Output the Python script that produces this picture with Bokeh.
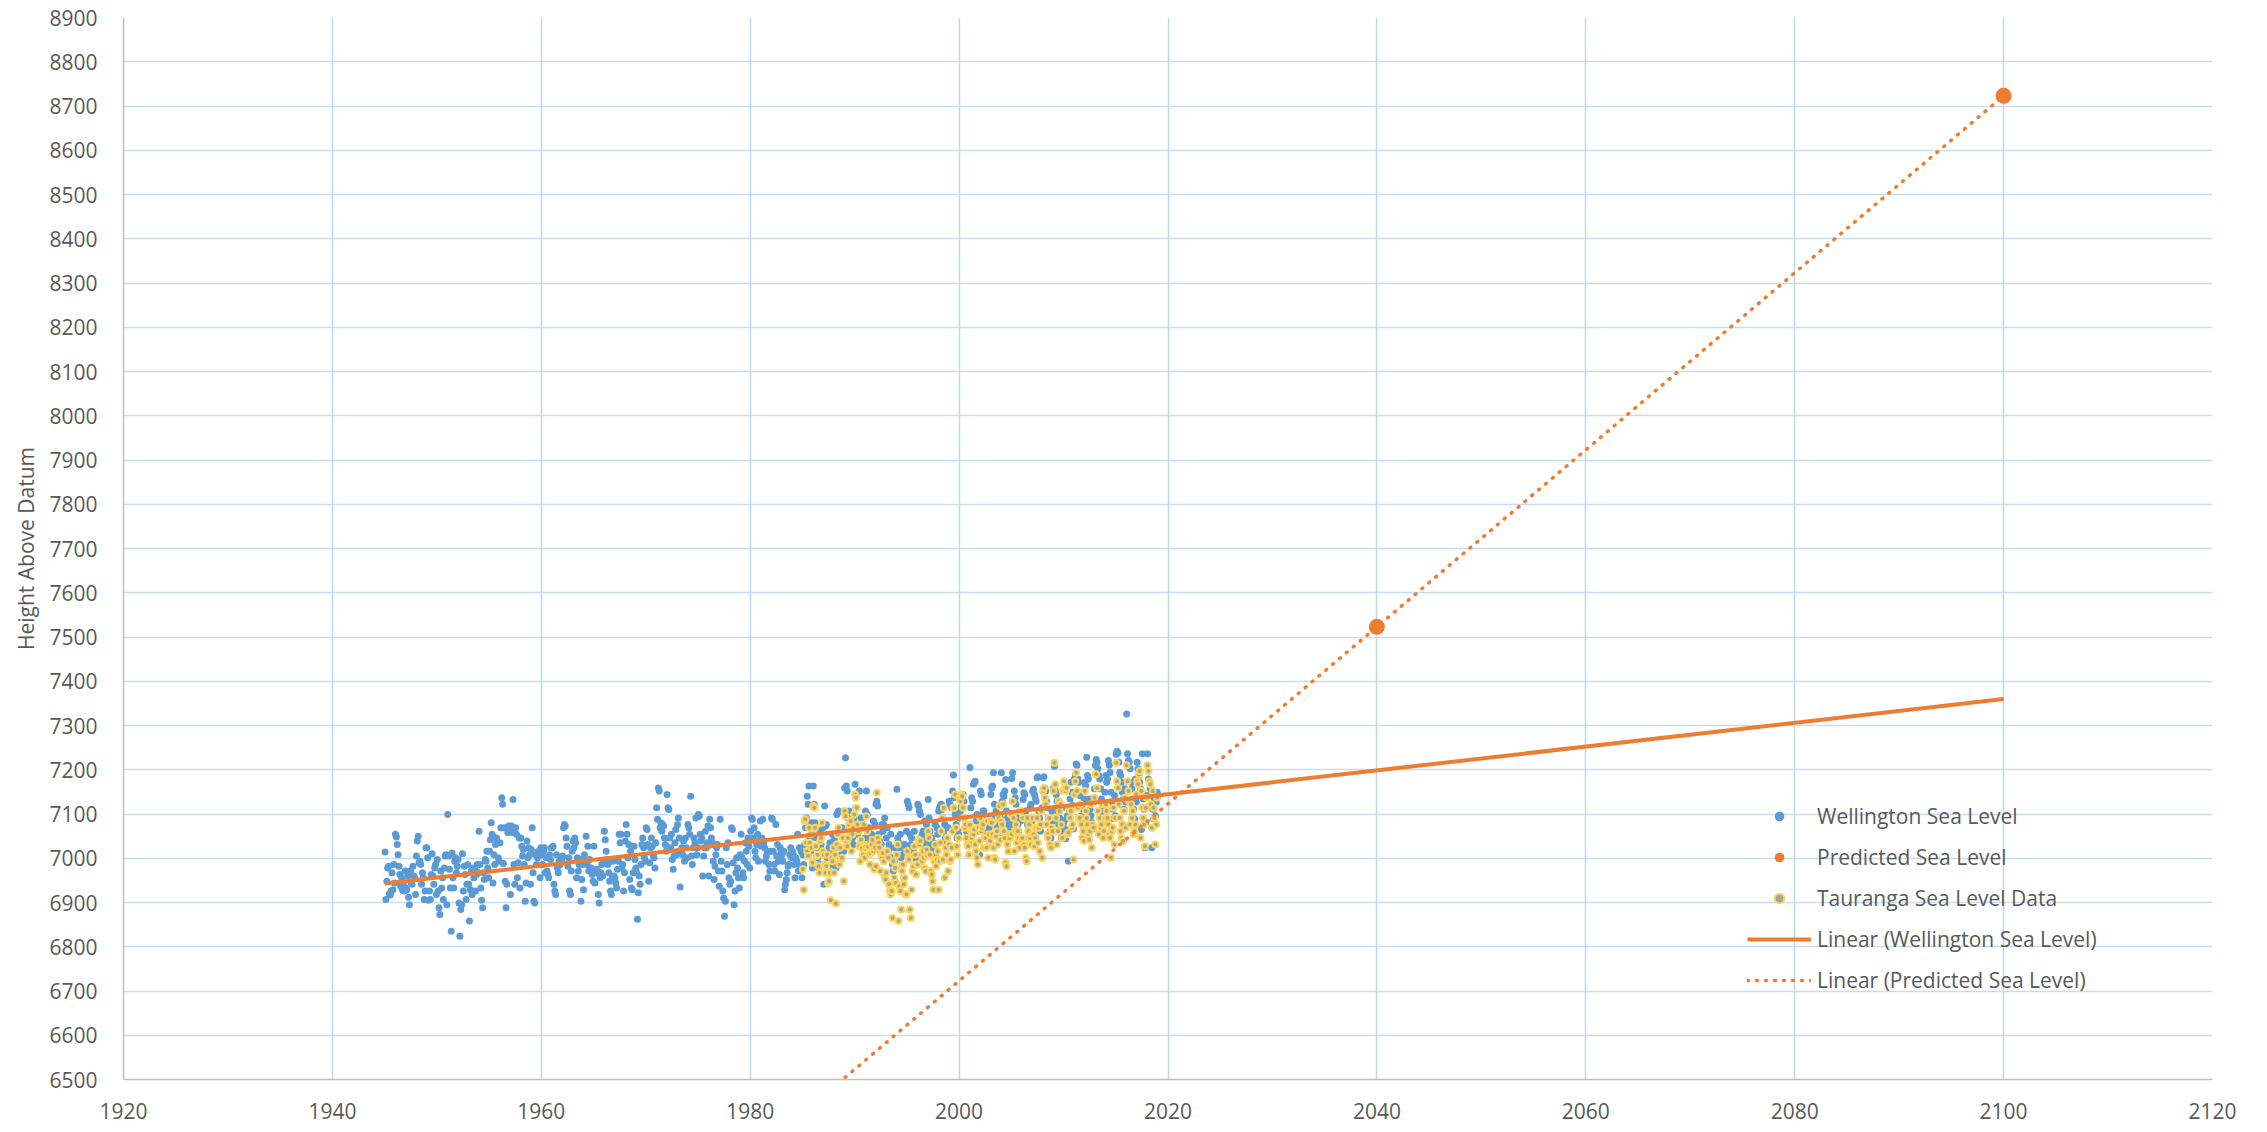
import numpy as np
from bokeh.plotting import figure
from bokeh.models import Range1d, SingleIntervalTicker, Legend, LegendItem, Label
from bokeh.embed import file_html
from bokeh.resources import INLINE

FONT = "Open Sans"
TEXT = "#595959"

# ---------------- data (monthly readings, 12 per year) ----------------
wellington_start_year = 1945
wellington_1945_1949 = [
    7014, 6907, 6948, 6978, 6982, 6920, 6917, 6926, 6967, 6929, 6986, 6944,
    7054, 7048, 7031, 7008, 6982, 6963, 6937, 6956, 6929, 6944, 6926, 6971,
    6933, 6929, 6960, 6912, 6895, 6971, 6944, 6941, 6982, 6960, 6956, 6918,
    7005, 7039, 7050, 6990, 6993, 6986, 6941, 6967, 6956, 6907, 6926, 7024,
    7024, 7001, 6905, 6926, 6907, 6963, 7010, 6960, 6941, 6978, 6986, 6918,
]
wellington_1950s = [
    6997, 6926, 6888, 6873, 6971, 6933, 6956, 6907, 6978, 7005, 7008, 6895,
    7099, 7005, 6975, 6933, 6835, 7012, 6956, 6933, 6993, 7001, 6967, 6982,
    6997, 6899, 6824, 6884, 6895, 7010, 6926, 6982, 6963, 6907, 6941, 6986,
    6941, 6858, 6929, 6971, 6918, 6978, 6956, 6975, 6926, 6963, 6986, 6967,
    7061, 6986, 6933, 6905, 6888, 6967, 6952, 6997, 6993, 7016, 6978, 6956,
    7016, 7042, 7080, 7054, 6944, 7008, 6986, 7031, 7046, 7035, 7001, 6993,
    7035, 7069, 7137, 7122, 6988, 7069, 6948, 6888, 6941, 7058, 7073, 7065,
    6918, 7073, 7058, 7133, 6986, 6941, 7069, 7054, 6956, 6990, 7046, 6933,
    7046, 7027, 7005, 7020, 6986, 6903, 6944, 7039, 7001, 7024, 7008, 6941,
    7020, 7069, 6967, 6903, 6899, 7008, 6986, 7001, 7016, 7008, 6956, 7024,
]
wellington_1960s = [
    7008, 6986, 7016, 7024, 6967, 7001, 6971, 6963, 6956, 7008, 6997, 7024,
    7024, 7027, 6941, 6926, 6918, 7008, 6978, 6967, 6993, 6986, 7001, 6997,
    7005, 7069, 7076, 7073, 7046, 7027, 6982, 7001, 6926, 6918, 6971, 7016,
    7039, 7024, 7046, 7035, 6956, 7001, 6971, 6986, 6997, 6903, 6952, 6986,
    6929, 7008, 6993, 7050, 6986, 7027, 6971, 6997, 6978, 6978, 6963, 6948,
    7027, 6944, 6967, 6975, 6971, 6918, 6899, 6956, 6967, 6986, 6960, 6993,
    7061, 7042, 7016, 6997, 6986, 6967, 6948, 6926, 6918, 6956, 6993, 6960,
    6956, 6944, 6933, 6975, 6993, 7054, 7035, 7054, 6978, 6986, 6926, 6967,
    7039, 7076, 7054, 7001, 7031, 6952, 7016, 6933, 6929, 6967, 7027, 6997,
    6978, 6967, 6862, 6922, 6960, 6941, 6986, 7031, 7046, 7024, 7001, 6993,
]
wellington_1970s = [
    7069, 7065, 7031, 6948, 6990, 7024, 7046, 7027, 7008, 7001, 6978, 7035,
    7114, 7088, 7159, 7152, 7069, 7080, 7061, 7076, 7073, 7046, 7031, 7016,
    7144, 7114, 7110, 7046, 7024, 7054, 6997, 6975, 7005, 7035, 7065, 7008,
    7076, 7091, 7046, 6935, 7016, 7024, 7008, 7039, 6993, 7046, 7024, 7001,
    7076, 7069, 7054, 7140, 7005, 6986, 7024, 7046, 7035, 7091, 7008, 7024,
    7099, 7095, 7054, 7039, 7046, 6960, 7005, 7024, 7061, 7024, 7035, 7073,
    6960, 7088, 7069, 7046, 7035, 6993, 6952, 6982, 7008, 7024, 7031, 6971,
    6937, 7088, 6993, 6971, 6926, 6910, 6869, 6903, 7024, 6986, 7035, 6956,
    6941, 6948, 7069, 7065, 6990, 6895, 6926, 6967, 7001, 6978, 6956, 6933,
    7008, 7054, 7001, 6967, 6956, 6993, 7035, 7016, 6986, 7046, 7027, 6978,
]
wellington_1980s = [
    7061, 7091, 7088, 7046, 7069, 7016, 7001, 7031, 7054, 6993, 7039, 7084,
    7027, 7046, 7088, 7035, 7024, 6993, 7005, 7016, 6956, 6986, 6971, 7016,
    7091, 7088, 7016, 6986, 6971, 7076, 7005, 7031, 6993, 6963, 7024, 7016,
    7008, 6993, 7016, 6929, 6941, 6952, 6967, 6982, 6986, 7008, 7024, 7001,
    7016, 7008, 6986, 6956, 7001, 6993, 7054, 6971, 7024, 6982, 7016, 6956,
    7008, 6986, 7031, 7069, 7091, 7140, 7122, 7163, 7046, 7016, 7080, 6978,
    7163, 7122, 7080, 7046, 7024, 7001, 6978, 6986, 7061, 7031, 7008, 7069,
    6941, 7118, 7073, 7076, 7001, 6971, 7024, 7035, 7001, 6986, 7054, 7016,
    7042, 6986, 6978, 7099, 7103, 7107, 7024, 7001, 7008, 7069, 7046, 7016,
    7159, 7227, 7163, 7152, 7091, 7107, 7069, 7076, 7054, 7046, 7031, 7091,
]
wellington_1990s = [
    7167, 7114, 7076, 7054, 7061, 7152, 7031, 7091, 7031, 7069, 7024, 7046,
    7107, 7152, 7099, 7061, 7069, 7046, 7035, 7054, 7024, 7084, 7039, 7076,
    7122, 7129, 7118, 7054, 7039, 7016, 7031, 7076, 7061, 7076, 7091, 7001,
    7046, 7069, 7016, 7031, 7024, 7054, 7001, 6986, 6971, 6993, 7024, 7008,
    7156, 7046, 7035, 7024, 7054, 7001, 6986, 7008, 6956, 7031, 7016, 7061,
    7129, 7122, 7114, 7054, 7031, 7046, 7024, 7016, 7061, 7001, 7008, 6993,
    7122, 7118, 7107, 7099, 7046, 7054, 7061, 7031, 7084, 7016, 7076, 7039,
    7133, 7091, 7061, 7031, 7046, 7024, 7035, 7008, 7076, 7001, 7069, 7054,
    7107, 7114, 7118, 7122, 7110, 7091, 7061, 7076, 7046, 7039, 7024, 7069,
    7129, 7122, 7118, 7114, 7152, 7188, 7137, 7099, 7076, 7046, 7061, 7054,
]
wellington_2000s = [
    7091, 7107, 7118, 7129, 7144, 7129, 7069, 7076, 7061, 7046, 7054, 7035,
    7205, 7114, 7137, 7129, 7167, 7171, 7174, 7084, 7099, 7061, 7069, 7008,
    7152, 7144, 7091, 7107, 7107, 7061, 7076, 7050, 7084, 7091, 7069, 7035,
    7144, 7159, 7163, 7193, 7122, 7091, 7107, 7069, 7061, 7046, 7076, 7091,
    7193, 7129, 7144, 7140, 7152, 7178, 7107, 7091, 7076, 7061, 7046, 7076,
    7180, 7193, 7129, 7152, 7137, 7122, 7091, 7076, 7061, 7046, 7084, 7107,
    7167, 7133, 7148, 7144, 7107, 7091, 7076, 7061, 7046, 7114, 7122, 7084,
    7152, 7156, 7144, 7137, 7129, 7182, 7184, 7107, 7091, 7061, 7076, 7114,
    7182, 7184, 7159, 7152, 7129, 7114, 7091, 7076, 7061, 7046, 7107, 7084,
    7159, 7208, 7152, 7144, 7129, 7107, 7076, 7091, 7061, 7046, 7114, 7069,
]
wellington_2010s = [
    7081, 7066, 7044, 7089, 7096, 6993, 7111, 7134, 7172, 7149, 7119, 7066,
    7179, 7187, 7213, 7210, 7179, 7172, 7142, 7119, 7096, 7081, 7111, 7134,
    7172, 7164, 7228, 7187, 7179, 7134, 7111, 7096, 7081, 7066, 7127, 7157,
    7210, 7223, 7217, 7202, 7187, 7179, 7157, 7134, 7111, 7096, 7081, 7149,
    7187, 7172, 7179, 7221, 7210, 7194, 7149, 7127, 7111, 7089, 7142, 7096,
    7235, 7242, 7238, 7217, 7194, 7187, 7172, 7149, 7134, 7111, 7157, 7127,
    7326, 7236, 7221, 7217, 7202, 7172, 7157, 7134, 7111, 7089, 7179, 7127,
    7217, 7202, 7187, 7172, 7157, 7065, 7236, 7134, 7111, 7024, 7081, 7142,
    7236, 7179, 7172, 7157, 7142, 7024, 7111, 7089, 7134, 7096, 7127, 7149,
]

tauranga_start_year = 1985
tauranga_1985_1989 = [
    6975, 6929, 7084, 7088, 7035, 7016, 7005, 7069, 7035, 7054, 7024, 6990,
    7118, 7114, 7069, 7027, 7005, 7008, 6982, 6967, 7039, 7046, 7080, 7016,
    7008, 6986, 6967, 6982, 7008, 6944, 6948, 6967, 6905, 7001, 6993, 7024,
    6967, 7008, 6898, 7031, 7054, 7069, 6986, 7024, 6997, 7001, 7046, 6948,
    7107, 7095, 7035, 7027, 7046, 7076, 7061, 7084, 7016, 7054, 7069, 7099,
]
tauranga_1990s = [
    7144, 7137, 7114, 7076, 7061, 7027, 6993, 7042, 7024, 7008, 7076, 7001,
    7027, 7095, 7061, 7027, 7008, 6986, 7012, 7031, 7042, 7016, 6975, 7024,
    6982, 7148, 7046, 7035, 7024, 6971, 7008, 7001, 7012, 6993, 6960, 6952,
    6967, 7016, 7001, 6941, 6926, 6918, 6926, 6865, 6993, 6956, 6978, 6944,
    7008, 7031, 6858, 6937, 6926, 6884, 6971, 6986, 6941, 6956, 6918, 6918,
    7016, 7001, 6997, 6884, 6865, 6929, 6971, 6982, 7027, 7008, 6963, 6986,
    6986, 7042, 7031, 7039, 7008, 6993, 7016, 7001, 6978, 6971, 7020, 7005,
    7061, 7046, 7008, 6971, 6963, 6948, 6929, 6993, 7031, 6982, 6997, 7016,
    6929, 6993, 7035, 7061, 7091, 6997, 7114, 6956, 7024, 7008, 7046, 6971,
    7031, 6993, 6997, 7024, 7061, 7114, 7114, 7144, 7069, 7027, 7008, 7046,
]
tauranga_2000s = [
    7137, 7129, 7144, 7140, 7114, 7091, 7069, 7076, 7046, 7031, 7027, 7008,
    7076, 7061, 7046, 7061, 7054, 7065, 7031, 7016, 7001, 6986, 7069, 7039,
    7091, 7061, 7069, 7076, 7024, 7046, 7046, 7024, 7084, 7001, 7054, 7039,
    7084, 7080, 7054, 7024, 7001, 6997, 7050, 7061, 7031, 7091, 7118, 7042,
    7084, 7076, 7122, 7061, 7046, 6990, 6982, 7031, 7016, 7054, 7046, 7099,
    7054, 7129, 7091, 7016, 7061, 7076, 7035, 7061, 7046, 7024, 7107, 7039,
    7046, 7091, 7031, 7024, 7001, 6993, 7091, 7061, 7076, 7046, 7031, 7054,
    7091, 7054, 7027, 7046, 7069, 7091, 7035, 7069, 7016, 7076, 7107, 7001,
    7152, 7159, 7137, 7122, 7076, 7054, 7046, 7091, 7031, 7024, 7069, 7061,
    7152, 7216, 7167, 7091, 7031, 7061, 7129, 7107, 7122, 7076, 7046, 7152,
]
tauranga_2010s = [
    7174, 7159, 7152, 7159, 7054, 7058, 7114, 7091, 7107, 7069, 7076, 6997,
    7144, 7174, 7193, 7152, 7114, 7091, 7091, 7122, 7076, 7046, 7061, 7039,
    7152, 7107, 7091, 7076, 7054, 7042, 7061, 7122, 7024, 7076, 7069, 7137,
    7190, 7190, 7159, 7107, 7054, 7091, 7069, 7076, 7122, 7046, 7061, 7091,
    7122, 7107, 7091, 7076, 7054, 7046, 7001, 7061, 7069, 7114, 7031, 7091,
    7216, 7174, 7159, 7122, 7091, 7061, 7046, 7076, 7039, 7107, 7137, 7069,
    7210, 7174, 7152, 7129, 7076, 7122, 7091, 7107, 7054, 7061, 7076, 7144,
    7174, 7167, 7190, 7197, 7046, 7152, 7114, 7091, 7076, 7027, 7114, 7137,
    7210, 7197, 7174, 7167, 7122, 7069, 7152, 7114, 7091, 7031, 7076, 7137,
]

predicted_years = [2040, 2100]
predicted_levels = [7523, 8723]
trend_end_year = 2100

x_ticks_interval = 20
y_ticks_interval = 100
x_limits = (1920, 2120)
y_limits = (6500, 8900)


def monthly_x(start_year, n):
    return [start_year + i // 12 + (i % 12 + 0.5) / 12.0 for i in range(n)]


wellington_y = (wellington_1945_1949 + wellington_1950s + wellington_1960s + wellington_1970s
                + wellington_1980s + wellington_1990s + wellington_2000s + wellington_2010s)
wellington_x = monthly_x(wellington_start_year, len(wellington_y))
tauranga_y = tauranga_1985_1989 + tauranga_1990s + tauranga_2000s + tauranga_2010s
tauranga_x = monthly_x(tauranga_start_year, len(tauranga_y))

# linear trend lines (least squares), as the spreadsheet does
w_slope, w_icpt = np.polyfit(wellington_x, wellington_y, 1)
w_tx = [min(wellington_x), trend_end_year]
w_ty = [w_slope * v + w_icpt for v in w_tx]
p_slope, p_icpt = np.polyfit(predicted_years, predicted_levels, 1)
p_tx = [min(wellington_x), trend_end_year]
p_ty = [p_slope * v + p_icpt for v in p_tx]

# ---------------- figure ----------------
p = figure(width=2267, height=1132, x_range=Range1d(*x_limits), y_range=Range1d(*y_limits),
           output_backend="svg", toolbar_location=None,
           min_border_left=123, min_border_right=55, min_border_top=17, min_border_bottom=53)
p.outline_line_color = None
p.background_fill_color = "white"
p.border_fill_color = "white"

p.xaxis.ticker = SingleIntervalTicker(interval=x_ticks_interval, num_minor_ticks=0)
p.yaxis.ticker = SingleIntervalTicker(interval=y_ticks_interval, num_minor_ticks=0)
for ax in (p.xaxis[0], p.yaxis[0]):
    ax.major_tick_line_color = None
    ax.minor_tick_line_color = None
    ax.axis_line_color = "#BFBFBF"
    ax.axis_line_width = 1.5
    ax.major_label_text_font = FONT
    ax.major_label_text_font_size = "21px"
    ax.major_label_text_color = TEXT
    ax.axis_label_text_font = FONT
    ax.axis_label_text_font_size = "21px"
    ax.axis_label_text_color = TEXT
    ax.axis_label_text_font_style = "normal"
p.xaxis.major_label_standoff = 17
p.yaxis.major_label_standoff = 20
p.yaxis.axis_label = "Height Above Datum"
p.yaxis.axis_label_standoff = 6

p.xgrid.grid_line_color = "#BDD7EE"
p.xgrid.grid_line_width = 1.5
p.ygrid.grid_line_color = "#C9DDF2"
p.ygrid.grid_line_width = 1.5

r_w = p.scatter(wellington_x, wellington_y, size=7, fill_color="#5B9BD5", line_color=None)
r_p = p.scatter(predicted_years, predicted_levels, size=16, fill_color="#ED7D31", line_color=None)
r_t = p.scatter(tauranga_x, tauranga_y, size=6, fill_color="#A5A5A5",
                line_color="#FFD452", line_width=2)
r_lw = p.line(w_tx, w_ty, line_color="#ED7D31", line_width=4)
r_lp = p.line(p_tx, p_ty, line_color="#ED7D31", line_width=3.5, line_dash="1 8", line_cap="round")

legend = Legend(items=[
    LegendItem(label="Wellington Sea Level", renderers=[r_w]),
    LegendItem(label="Predicted Sea Level", renderers=[r_p]),
    LegendItem(label="Tauranga Sea Level Data", renderers=[r_t]),
    LegendItem(label="Linear (Wellington Sea Level)", renderers=[r_lw]),
    LegendItem(label="Linear (Predicted Sea Level)", renderers=[r_lp]),
], location=(1624, 85))
legend.background_fill_alpha = 0
legend.border_line_color = None
legend.padding = 0
legend.margin = 0
legend.glyph_width = 64
legend.glyph_height = 24
legend.label_standoff = 6
legend.spacing = 13
legend.label_text_font = FONT
legend.label_text_font_size = "21px"
legend.label_text_color = TEXT
p.add_layout(legend, "center")

year_label = Label(x=1044.5, y=-39, x_units="screen", y_units="screen", text="Year",
                   text_align="center", text_baseline="middle", text_font=FONT,
                   text_font_size="21px", text_color=TEXT)
p.add_layout(year_label)

open("out.html", "w").write(file_html(p, INLINE))
